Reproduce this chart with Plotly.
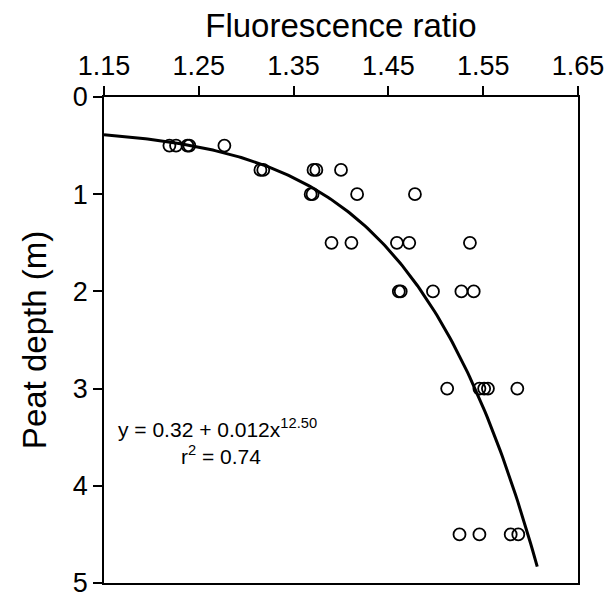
import numpy as np
import plotly.graph_objects as go

# Observed data: fluorescence ratio (x) vs peat depth (m)
ratio = [1.219, 1.226, 1.238, 1.240, 1.277,
         1.315, 1.318, 1.371, 1.374, 1.400,
         1.368, 1.370, 1.417, 1.478,
         1.390, 1.411, 1.459, 1.472, 1.536,
         1.461, 1.463, 1.497, 1.527, 1.540,
         1.512, 1.546, 1.551, 1.555, 1.586,
         1.525, 1.546, 1.579, 1.587]
depth = [0.5, 0.5, 0.5, 0.5, 0.5,
         0.75, 0.75, 0.75, 0.75, 0.75,
         1.0, 1.0, 1.0, 1.0,
         1.5, 1.5, 1.5, 1.5, 1.5,
         2.0, 2.0, 2.0, 2.0, 2.0,
         3.0, 3.0, 3.0, 3.0, 3.0,
         4.5, 4.5, 4.5, 4.5]

# Fitted model shown on the chart: y = a + b * x^c
fit_a, fit_b, fit_c = 0.32, 0.012, 12.50
fit_x_start, fit_x_end = 1.15, 1.607

x_ticks = [1.15, 1.25, 1.35, 1.45, 1.55, 1.65]
y_ticks = [0, 1, 2, 3, 4, 5]

fx = np.linspace(fit_x_start, fit_x_end, 200)
fy = fit_a + fit_b * fx ** fit_c

FONT = "Liberation Sans, Arial, Helvetica, sans-serif"

fig = go.Figure()
fig.add_trace(go.Scatter(x=fx, y=fy, mode="lines",
                         line=dict(color="black", width=3), hoverinfo="skip"))
fig.add_trace(go.Scatter(x=ratio, y=depth, mode="markers",
                         marker=dict(symbol="circle-open", size=12,
                                     color="black", line=dict(width=1.8))))

fig.add_annotation(x=1.27, y=3.41, xref="x", yref="y",
                   text="y = 0.32 + 0.012x<sup>12.50</sup>", showarrow=False,
                   font=dict(size=21, color="black", family=FONT))
fig.add_annotation(x=1.273, y=3.68, xref="x", yref="y",
                   text="r<sup>2</sup> = 0.74", showarrow=False,
                   font=dict(size=21, color="black", family=FONT))

fig.update_layout(
    width=608, height=592,
    margin=dict(l=104, r=30, t=97, b=9),
    paper_bgcolor="white", plot_bgcolor="white",
    showlegend=False,
    font=dict(family=FONT, color="black"),
    xaxis=dict(side="top", range=[1.15, 1.65], tickvals=x_ticks,
               ticktext=[f"{v:.2f}" for v in x_ticks],
               ticks="outside", ticklen=9, tickwidth=1.5, tickcolor="black",
               showline=True, linecolor="black", linewidth=1.5, mirror=True,
               showgrid=False, zeroline=False, automargin=False,
               tickfont=dict(size=27), ticklabeloverflow="allow",
               title=dict(text="Fluorescence ratio", font=dict(size=33), standoff=4)),
    yaxis=dict(range=[5, 0], tickvals=y_ticks,
               ticks="outside", ticklen=9, tickwidth=1.5, tickcolor="black",
               showline=True, linecolor="black", linewidth=1.5, mirror=True,
               showgrid=False, zeroline=False, automargin=False,
               tickfont=dict(size=27), ticklabeloverflow="allow",
               title=dict(text="Peat depth (m)", font=dict(size=33), standoff=16)),
)

fig.write_html("out.html")
